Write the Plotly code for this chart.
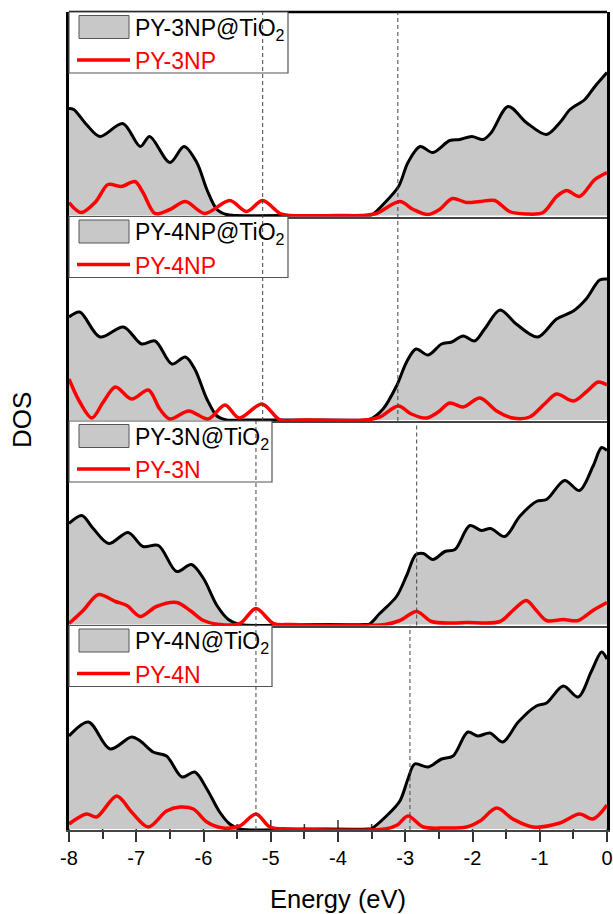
import plotly.graph_objects as go

# ---------------- data (DOS in arbitrary units) ----------------
e_tot_3np = [-8.0, -7.93, -7.74, -7.54, -7.2, -6.94, -6.8, -6.5, -6.29, -6.1, -5.95, -5.8, -5.66, -5.5, -4.5, -3.6, -3.5,
             -3.33, -3.1, -2.96, -2.78, -2.59, -2.34, -2.19, -2.01, -1.84, -1.72, -1.47, -1.2, -0.9, -0.7, -0.55, -0.33, -0.18, 0.0]
dos_tot_3np = [107, 106, 91, 79, 92, 69, 79, 53, 69, 53, 26, 6, 1, 0, 0, 0, 0.5,
               11, 29, 53, 69, 63, 75, 76, 79, 76, 83, 109, 93, 81, 93, 106, 116, 129, 143]
e_mol_3np = [-8.0, -7.82, -7.6, -7.42, -7.22, -7.02, -6.9, -6.72, -6.5, -6.27, -5.98, -5.61, -5.36, -5.12, -4.86, -4.7, -4.0,
             -3.65, -3.43, -3.08, -2.88, -2.66, -2.49, -2.3, -2.09, -1.89, -1.67, -1.45, -1.2, -0.95, -0.75, -0.6, -0.41, -0.18, 0.0]
dos_mol_3np = [13, 3, 14, 31, 29, 34, 23, 2, 6, 14, 2, 15, 4, 15, 2, 0, 0,
               0, 2, 14, 6, 1, 6, 17, 13, 14, 15, 4, 1.5, 3, 19, 25, 19, 36, 43]

e_tot_4np = [-8.0, -7.84, -7.54, -7.19, -6.92, -6.72, -6.47, -6.27, -6.13, -5.95, -5.8, -5.66, -5.4, -4.5, -3.6, -3.53,
             -3.33, -3.13, -2.98, -2.84, -2.66, -2.46, -2.31, -2.14, -1.97, -1.82, -1.59, -1.35, -1.03, -0.75, -0.5, -0.31, -0.11, 0.0]
dos_tot_4np = [103, 108, 83, 93, 76, 79, 56, 63, 51, 21, 4, 0, 0, 0, 0, 0.5,
               11, 34, 58, 71, 65, 76, 78, 84, 79, 91, 110, 96, 83, 101, 109, 121, 140, 141]
e_mol_4np = [-8.0, -7.84, -7.66, -7.49, -7.31, -7.07, -6.82, -6.65, -6.5, -6.22, -5.93, -5.68, -5.47, -5.13, -4.86, -4.5,
             -3.58, -3.38, -3.1, -2.91, -2.68, -2.51, -2.34, -2.14, -1.89, -1.64, -1.4, -1.15, -0.93, -0.75, -0.5, -0.31, -0.13, 0.0]
dos_mol_4np = [41, 18, 2, 18, 33, 21, 30, 11, 1, 9, 1, 15, 2, 16, 0, 0,
               0, 3, 14, 6, 2, 8, 17, 13, 22, 9, 2, 3, 16, 26, 19, 28, 38, 35]

e_tot_3n = [-8.0, -7.81, -7.64, -7.41, -7.12, -6.9, -6.67, -6.4, -6.18, -6.0, -5.8, -5.63, -5.46, -4.5, -3.6, -3.53,
            -3.38, -3.13, -2.98, -2.84, -2.73, -2.59, -2.41, -2.26, -2.04, -1.87, -1.73, -1.52, -1.3, -1.05, -0.9, -0.63, -0.41, -0.21, -0.08, 0.0]
dos_tot_3n = [101, 109, 96, 81, 92, 78, 79, 53, 60, 46, 19, 5, 0, 0, 0, 0.5,
              11, 28, 49, 70, 71, 65, 73, 75, 99, 94, 96, 88, 108, 123, 125, 144, 134, 158, 177, 174]
e_mol_3n = [-8.0, -7.79, -7.56, -7.31, -7.14, -6.94, -6.7, -6.4, -6.2, -6.0, -5.76, -5.46, -5.22, -4.96, -4.7,
            -3.3, -3.08, -2.83, -2.61, -2.3, -2.09, -1.59, -1.4, -1.2, -1.05, -0.9, -0.65, -0.43, -0.21, 0.0]
dos_mol_3n = [1, 14, 30, 23, 19, 8, 18, 22, 14, 4, 0, 1, 16, 1, 0,
              0, 4, 13, 3, 1.5, 2, 3, 14, 24, 14, 4, 5, 4, 14, 22]

e_tot_4n = [-8.0, -7.71, -7.39, -7.07, -6.94, -6.75, -6.55, -6.32, -6.13, -5.95, -5.76, -5.61, -5.46, -4.5, -3.55, -3.5,
            -3.28, -3.08, -2.96, -2.86, -2.66, -2.46, -2.29, -2.07, -1.92, -1.74, -1.55, -1.32, -1.05, -0.9, -0.65, -0.43, -0.23, -0.08, 0.0]
dos_tot_4n = [93, 107, 80, 92, 88, 77, 73, 52, 57, 40, 17, 5, 0, 0, 0, 0.5,
              13, 28, 50, 65, 62, 70, 73, 97, 93, 96, 87, 107, 123, 126, 143, 132, 158, 177, 170]
e_mol_4n = [-8.0, -7.74, -7.59, -7.29, -7.07, -6.82, -6.55, -6.35, -6.15, -5.95, -5.71, -5.46, -5.22, -5.01, -4.7,
            -3.3, -3.12, -2.96, -2.73, -2.4, -2.09, -1.89, -1.64, -1.4, -1.1, -0.7, -0.41, -0.21, 0.0]
dos_mol_4n = [5, 15, 12, 33, 17, 2, 18, 22, 20, 7, 1, 3, 15, 2, 0,
              0, 4, 13, 2, 1, 2, 8, 21, 10, 2, 6, 15, 10, 24]

labels_tot = ["PY-3NP@TiO<sub>2</sub>", "PY-4NP@TiO<sub>2</sub>", "PY-3N@TiO<sub>2</sub>", "PY-4N@TiO<sub>2</sub>"]
labels_mol = ["PY-3NP", "PY-4NP", "PY-3N", "PY-4N"]

# vertical reference levels (eV): (energy, first panel, last panel)
ref_levels = [(-5.12, 1, 2), (-3.11, 1, 2), (-5.22, 3, 4), (-2.83, 3, 3), (-2.93, 4, 4)]

tick_vals = [-8, -7, -6, -5, -4, -3, -2, -1, 0]
tick_text = ["-8", "-7", "-6", "-5", "-4", "-3", "-2", "-1", "0"]

# ---------------- figure ----------------
W, H = 613, 914
ML, MR, MT, MB = 69, 6, 12, 84
PW, PH = W - ML - MR, H - MT - MB
YR = [-1, 203.5]

panels = [
    (e_tot_3np, dos_tot_3np, e_mol_3np, dos_mol_3np),
    (e_tot_4np, dos_tot_4np, e_mol_4np, dos_mol_4np),
    (e_tot_3n, dos_tot_3n, e_mol_3n, dos_mol_3n),
    (e_tot_4n, dos_tot_4n, e_mol_4n, dos_mol_4n),
]
box_right_px = [288, 288, 272, 272]

fig = go.Figure()
FONT = "Liberation Sans, Arial, sans-serif"


def px_x(px):
    return (px - ML) / PW


def px_y(py):
    return (MT + PH - py) / PH


for i, (et, dt, em, dm) in enumerate(panels, start=1):
    xa = "x" if i == 1 else f"x{i}"
    ya = "y" if i == 1 else f"y{i}"
    fig.add_trace(go.Scatter(x=et, y=dt, xaxis=xa, yaxis=ya, mode="lines",
                             line=dict(color="black", width=3, shape="spline", smoothing=0.9),
                             fill="tozeroy", fillcolor="rgb(200,200,200)",
                             name=labels_tot[i - 1], showlegend=False, hoverinfo="skip"))
    fig.add_trace(go.Scatter(x=em, y=dm, xaxis=xa, yaxis=ya, mode="lines",
                             line=dict(color="#ff0000", width=3.5, shape="spline", smoothing=0.9),
                             name=labels_mol[i - 1], showlegend=False, hoverinfo="skip"))

layout = dict(width=W, height=H, margin=dict(l=ML, r=MR, t=MT, b=MB, autoexpand=False),
              paper_bgcolor="white", plot_bgcolor="white", showlegend=False,
              font=dict(family=FONT, color="black"))

for i in range(1, 5):
    xk = "xaxis" if i == 1 else f"xaxis{i}"
    yk = "yaxis" if i == 1 else f"yaxis{i}"
    ya = "y" if i == 1 else f"y{i}"
    xd = dict(range=[-8, 0], anchor=ya, showgrid=False, zeroline=False, automargin=False,
              showline=True, linecolor="#444", linewidth=2)
    if i < 4:
        xd.update(matches="x4", showticklabels=False, ticks="")
    else:
        xd.update(tickmode="array", tickvals=tick_vals, ticktext=tick_text,
                  ticks="outside", ticklen=10, tickwidth=1.5, tickcolor="#333",
                  ticklabelstandoff=-1,
                  tickfont=dict(size=20, family=FONT, color="black"),
                  minor=dict(tick0=-8, dtick=0.5, ticks="outside", ticklen=7,
                             tickwidth=1.5, tickcolor="#333"))
    layout[xk] = xd
    layout[yk] = dict(domain=[1 - i * 0.25, 1 - (i - 1) * 0.25], range=YR, automargin=False,
                      showgrid=False, zeroline=False, showticklabels=False, ticks="",
                      showline=True, mirror=True, linecolor="black", linewidth=2.5)

shapes = []
annotations = []

# inner half of the crossing ticks on the bottom axis (hidden by the fill)
for v in tick_vals:
    shapes.append(dict(type="line", xref="x4", yref="y4", x0=v, x1=v, y0=YR[0], y1=YR[0] + 10,
                       line=dict(color="#333", width=1.5), layer="below"))
for k in range(len(tick_vals) - 1):
    v = (tick_vals[k] + tick_vals[k + 1]) / 2
    shapes.append(dict(type="line", xref="x4", yref="y4", x0=v, x1=v, y0=YR[0], y1=YR[0] + 6,
                       line=dict(color="#333", width=1.5), layer="below"))

# top frame
shapes.append(dict(type="line", xref="paper", yref="paper", x0=0, x1=1, y0=1, y1=1,
                   line=dict(color="black", width=2.5)))

# per-panel legend boxes
for i in range(1, 5):
    top = MT + (i - 1) * PH / 4
    shapes.append(dict(type="rect", xref="paper", yref="paper",
                       x0=px_x(ML), x1=px_x(box_right_px[i - 1]), y0=px_y(top), y1=px_y(top + 61),
                       fillcolor="white", line=dict(color="#555", width=1.2), layer="above"))
    shapes.append(dict(type="rect", xref="paper", yref="paper",
                       x0=px_x(79), x1=px_x(129), y0=px_y(top + 3.5), y1=px_y(top + 26.5),
                       fillcolor="rgb(200,200,200)", line=dict(color="#555", width=1), layer="above"))
    shapes.append(dict(type="line", xref="paper", yref="paper",
                       x0=px_x(77), x1=px_x(130), y0=px_y(top + 48), y1=px_y(top + 48),
                       line=dict(color="#ff0000", width=3.5), layer="above"))
    annotations.append(dict(xref="paper", yref="paper", x=px_x(133), y=px_y(top + 17),
                            xanchor="left", yanchor="middle", showarrow=False,
                            text=labels_tot[i - 1], font=dict(size=23, family=FONT, color="black")))
    annotations.append(dict(xref="paper", yref="paper", x=px_x(133), y=px_y(top + 49),
                            xanchor="left", yanchor="middle", showarrow=False,
                            text=labels_mol[i - 1], font=dict(size=23, family=FONT, color="#ff0000")))

# dashed reference lines (drawn over the legend boxes)
for e, p0, p1 in ref_levels:
    shapes.append(dict(type="line", xref="x4", yref="paper", x0=e, x1=e,
                       y0=1 - p1 * 0.25, y1=1 - (p0 - 1) * 0.25,
                       line=dict(color="#444", width=1, dash="4px,3px"), layer="above"))

# axis titles
annotations.append(dict(xref="paper", yref="paper", x=0.5, y=px_y(899), xanchor="center", yanchor="middle",
                        showarrow=False, text="Energy (eV)", font=dict(size=25.5, family=FONT, color="black")))
annotations.append(dict(xref="paper", yref="paper", x=px_x(22), y=px_y(420), xanchor="center", yanchor="middle",
                        showarrow=False, textangle=-90, text="DOS", font=dict(size=26, family=FONT, color="black")))

layout["shapes"] = shapes
layout["annotations"] = annotations
fig.update_layout(**layout)

fig.write_html("out.html", config={"displayModeBar": False},
               post_script="document.body.style.margin='0px';document.body.style.overflow='hidden';")
